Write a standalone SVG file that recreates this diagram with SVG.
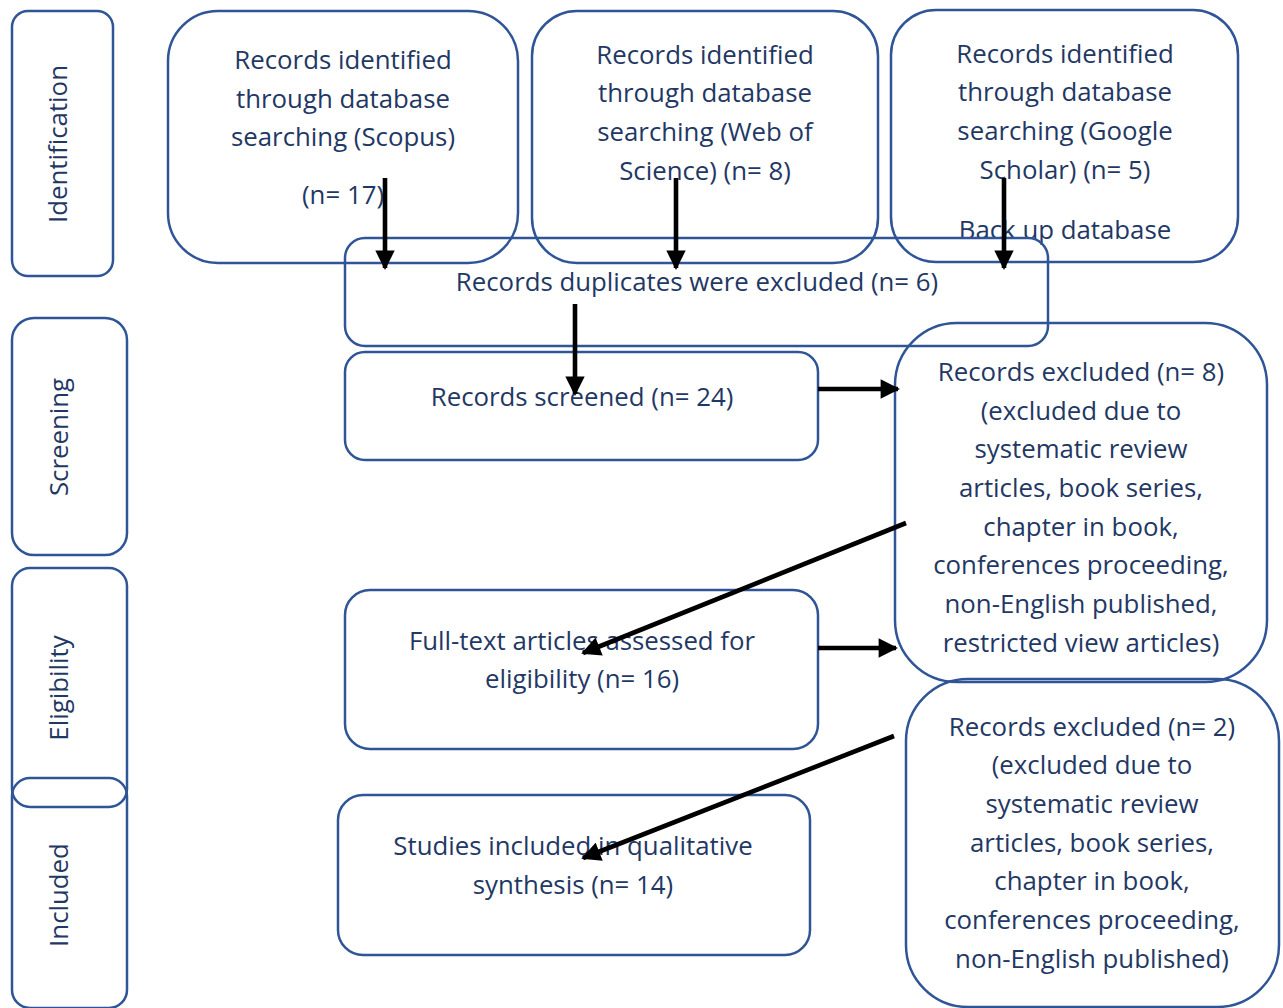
<svg xmlns="http://www.w3.org/2000/svg" width="1283" height="1008" viewBox="0 0 1283 1008">
<style>
.box{fill:none;stroke:#2F5597;stroke-width:2.5}
.t{font-family:"Open Sans","Noto Sans",sans-serif;font-size:25.8px;fill:#1F3864;text-anchor:middle}
.c{stroke:#000;stroke-width:4.6;fill:none}
</style>
<defs>
<marker id="ah" viewBox="0 0 10 10" refX="9" refY="5" markerWidth="4.3" markerHeight="4.2" markerUnits="strokeWidth" orient="auto">
<path d="M0,0 L10,5 L0,10 z" fill="#000"/>
</marker>
</defs>
<rect width="1283" height="1008" fill="#fff"/>
<g id="stage-identification">
<rect class="box" x="12" y="11" width="101" height="265" rx="16"/>
<text class="t" transform="translate(67,144) rotate(-90)">Identification</text>
</g>
<g id="stage-screening">
<rect class="box" x="12" y="318" width="115" height="237" rx="22"/>
<text class="t" transform="translate(68,437) rotate(-90)">Screening</text>
</g>
<g id="stage-eligibility">
<rect class="box" x="12" y="568" width="115" height="239" rx="18"/>
<text class="t" transform="translate(68,688) rotate(-90)">Eligibility</text>
</g>
<g id="stage-included">
<rect class="box" x="12" y="778" width="115" height="230" rx="18"/>
<text class="t" transform="translate(68,895) rotate(-90)">Included</text>
</g>
<g id="scopus">
<rect class="box" x="168" y="11" width="350" height="252" rx="50"/>
<text class="t" x="343" y="68.5">Records identified</text>
<text class="t" x="343" y="107.5">through database</text>
<text class="t" x="343" y="145.5">searching (Scopus)</text>
<text class="t" x="343" y="203.5">(n= 17)</text>
</g>
<g id="wos">
<rect class="box" x="532" y="11" width="346" height="252" rx="45"/>
<text class="t" x="705" y="63.5">Records identified</text>
<text class="t" x="705" y="101.5">through database</text>
<text class="t" x="705" y="140.5">searching (Web of</text>
<text class="t" x="705" y="179.5">Science) (n= 8)</text>
</g>
<g id="scholar">
<rect class="box" x="891" y="10" width="347" height="252" rx="45"/>
<text class="t" x="1065" y="62.5">Records identified</text>
<text class="t" x="1065" y="100.5">through database</text>
<text class="t" x="1065" y="139.5">searching (Google</text>
<text class="t" x="1065" y="178.5">Scholar) (n= 5)</text>
<text class="t" x="1065" y="238.5">Back up database</text>
</g>
<g id="duplicates">
<rect class="box" x="345" y="238" width="703" height="108" rx="20"/>
<text class="t" x="697" y="290.5">Records duplicates were excluded (n= 6)</text>
</g>
<g id="screened">
<rect class="box" x="345" y="352" width="473" height="108" rx="20"/>
<text class="t" x="582" y="405.5">Records screened (n= 24)</text>
</g>
<g id="excluded1">
<rect class="box" x="895" y="323" width="372" height="359" rx="62"/>
<text class="t" x="1081" y="380.5">Records excluded (n= 8)</text>
<text class="t" x="1081" y="419.5">(excluded due to</text>
<text class="t" x="1081" y="457.5">systematic review</text>
<text class="t" x="1081" y="496.5">articles, book series,</text>
<text class="t" x="1081" y="535.5">chapter in book,</text>
<text class="t" x="1081" y="573.5">conferences proceeding,</text>
<text class="t" x="1081" y="612.5">non-English published,</text>
<text class="t" x="1081" y="651.5">restricted view articles)</text>
</g>
<g id="fulltext">
<rect class="box" x="345" y="590" width="473" height="159" rx="25"/>
<text class="t" x="582" y="649.5">Full-text articles assessed for</text>
<text class="t" x="582" y="687.5">eligibility (n= 16)</text>
</g>
<g id="included-studies">
<rect class="box" x="338" y="795" width="472" height="160" rx="25"/>
<text class="t" x="573" y="854.5">Studies included in qualitative</text>
<text class="t" x="573" y="893.5">synthesis (n= 14)</text>
</g>
<g id="excluded2">
<rect class="box" x="906" y="679" width="373" height="328" rx="62"/>
<text class="t" x="1092" y="735.5">Records excluded (n= 2)</text>
<text class="t" x="1092" y="773.5">(excluded due to</text>
<text class="t" x="1092" y="812.5">systematic review</text>
<text class="t" x="1092" y="851.5">articles, book series,</text>
<text class="t" x="1092" y="889.5">chapter in book,</text>
<text class="t" x="1092" y="928.5">conferences proceeding,</text>
<text class="t" x="1092" y="967.5">non-English published)</text>
</g>
<g id="connectors">
<line class="c" x1="385" y1="178" x2="385" y2="268" marker-end="url(#ah)"/>
<line class="c" x1="676" y1="178" x2="676" y2="268" marker-end="url(#ah)"/>
<line class="c" x1="1004" y1="178" x2="1004" y2="268" marker-end="url(#ah)"/>
<line class="c" x1="575" y1="304" x2="575" y2="394" marker-end="url(#ah)"/>
<line class="c" x1="818" y1="389" x2="898" y2="389" marker-end="url(#ah)"/>
<line class="c" x1="818" y1="648" x2="896" y2="648" marker-end="url(#ah)"/>
<line class="c" x1="906" y1="523" x2="583" y2="653" marker-end="url(#ah)"/>
<line class="c" x1="894" y1="736" x2="583" y2="858" marker-end="url(#ah)"/>
</g>
</svg>
